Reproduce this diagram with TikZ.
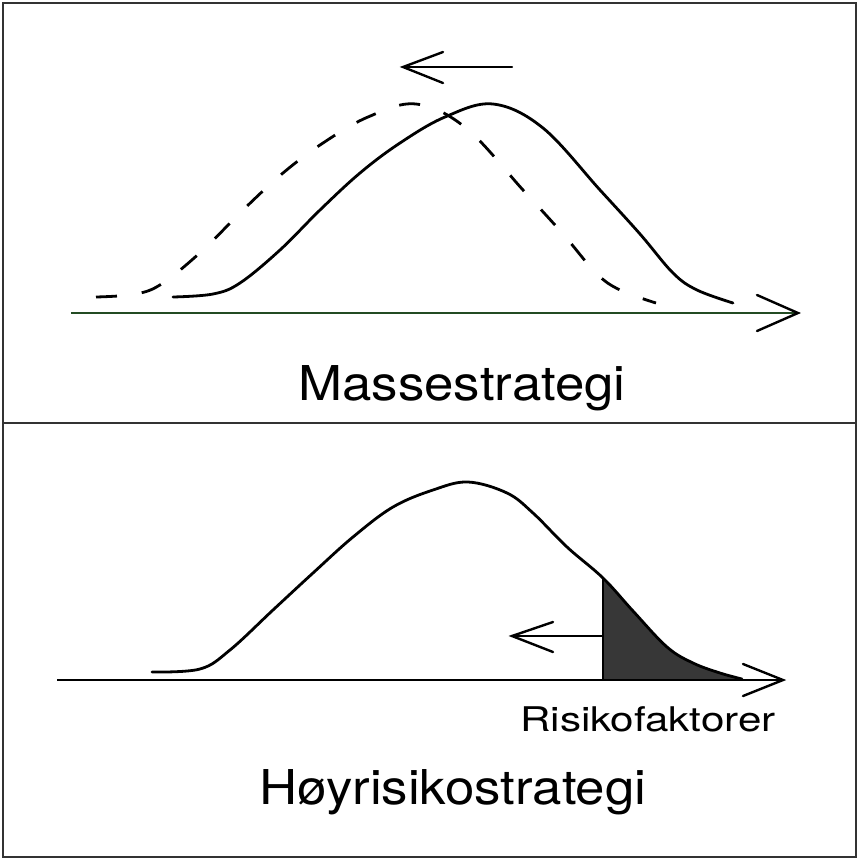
\documentclass[tikz,border=0pt]{standalone}
\usepackage{fontspec}
\setmainfont{TeX Gyre Heros}
\begin{document}
\begin{tikzpicture}[x=1pt,y=-1pt,
  curve/.style={line width=2.8pt,line join=round,line cap=round},
  dashcurve/.style={curve,line cap=butt,dash pattern=on 21pt off 25pt},
  axisline/.style={line width=2.6pt},
  chevron/.style={line width=2.4pt,line join=miter,line cap=round},
  framestyle/.style={line width=2.5pt,draw=black!80},
  biglabel/.style={font=\fontsize{48}{50}\selectfont,anchor=base,xscale=1.1,inner sep=0pt},
  smalllabel/.style={font=\fontsize{34}{36}\selectfont,anchor=base,xscale=1.24,inner sep=0pt}]
\definecolor{axisgreen}{RGB}{35,75,35}
\definecolor{tailfill}{RGB}{55,55,55}
\useasboundingbox (0,0) rectangle (859,860);
% frame and divider
\draw[framestyle] (3,3) rectangle (856,857);
\coordinate (divL) at (3,423);
\coordinate (divR) at (856,423);
\draw[framestyle] (divL) -- (divR);

% ---------- top panel ----------
\coordinate (axTL) at (71,313);
\coordinate (axTR) at (798,313);
\coordinate (axTa) at (757,295);
\coordinate (axTb) at (757,331);
\draw[axisline,draw=axisgreen] (axTL) -- (axTR);
\draw[chevron] (axTa) -- (axTR) -- (axTb);

\def\solidpts{(173,297) (213,294) (240,283) (280,250) (320,210) (360,173) (400,143) (445,117) (493,104) (543,128) (600,190) (640,234) (673,273) (697,290) (733,303)}
\draw[curve] plot[smooth,tension=0.6] coordinates {\solidpts};
\begin{scope}[xshift=-77pt]
\draw[dashcurve] plot[smooth,tension=0.6] coordinates {\solidpts};
\end{scope}

\coordinate (shT0) at (512,67);
\coordinate (shT1) at (403,67);
\coordinate (shTa) at (443,52);
\coordinate (shTb) at (443,83);
\draw[chevron] (shT0) -- (shT1);
\draw[chevron] (shTa) -- (shT1) -- (shTb);

\node[biglabel] (mass) at (462,400) {Massestrategi};

% ---------- bottom panel ----------
\def\bottompts{(152,672) (200,669) (230,650) (273,610) (313,573) (353,537) (393,507) (433,490) (468,482) (507,493) (533,513) (567,547) (603,578) (633,611) (667,647) (693,663) (720,673) (742,679)}
\begin{scope}
\clip (603,470) rectangle (800,680);
\fill[tailfill] plot[smooth,tension=0.6] coordinates {\bottompts} -- (742,682) -- (152,682) -- cycle;
\end{scope}
\draw[curve] plot[smooth,tension=0.6] coordinates {\bottompts};

\coordinate (axBL) at (57,680);
\coordinate (axBR) at (783,680);
\coordinate (axBa) at (743,664);
\coordinate (axBb) at (743,696);
\draw[axisline] (axBL) -- (axBR);
\draw[chevron] (axBa) -- (axBR) -- (axBb);

\coordinate (cutTop) at (603,577);
\coordinate (cutBot) at (603,680);
\draw[line width=2.8pt] (cutTop) -- (cutBot);

\coordinate (shB0) at (603,636);
\coordinate (shB1) at (512,636);
\coordinate (shBa) at (553,622);
\coordinate (shBb) at (553,652);
\draw[line width=1.8pt] (shB0) -- (shB1);
\draw[chevron] (shBa) -- (shB1) -- (shBb);

\node[smalllabel] (risk) at (648,731) {Risikofaktorer};
\node[biglabel] (hoy) at (453,804) {Høyrisikostrategi};
\end{tikzpicture}
\end{document}
